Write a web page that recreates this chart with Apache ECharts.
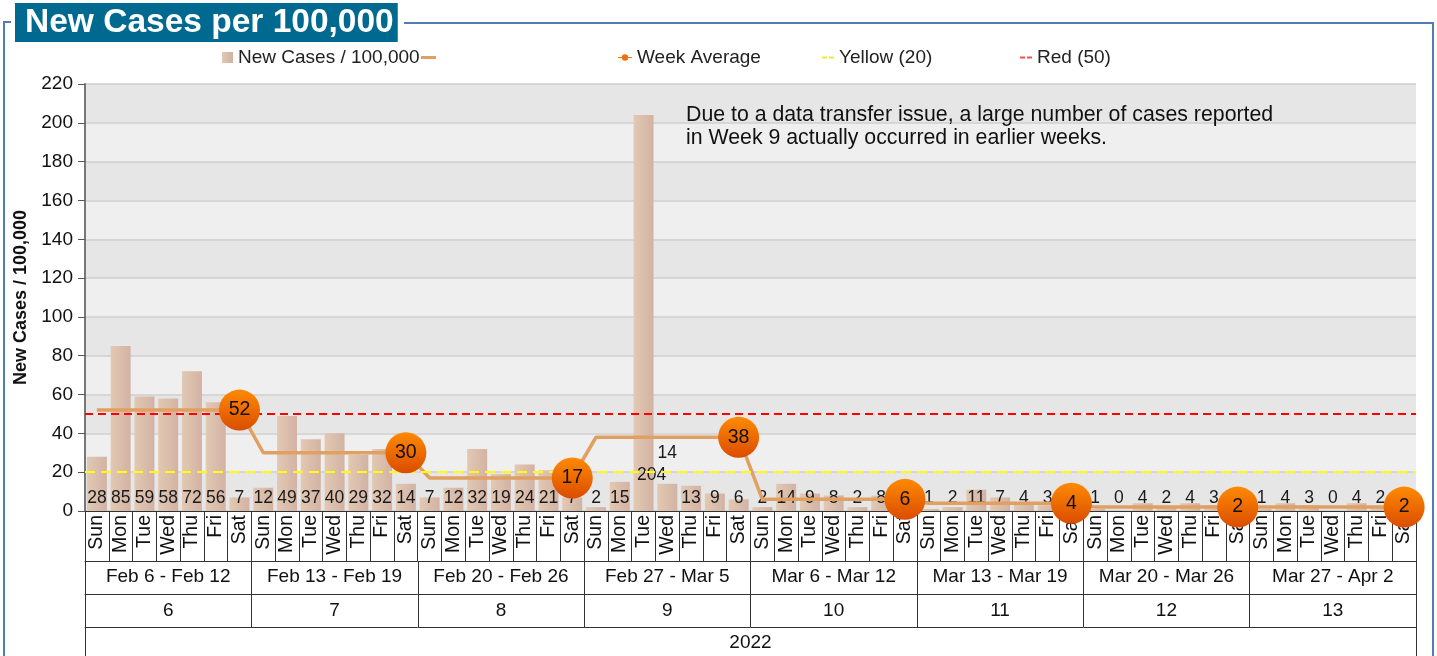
<!DOCTYPE html>
<html>
<head>
<meta charset="utf-8">
<title>New Cases per 100,000</title>
<script src="https://cdn.jsdelivr.net/npm/echarts@6/dist/echarts.min.js"></script>
<style>
  html, body { margin: 0; padding: 0; background: #fff; }
  #chart { width: 1437px; height: 656px; }
</style>
</head>
<body>
<div id="chart"></div>
<script>
// data
const days = ['Sun', 'Mon', 'Tue', 'Wed', 'Thu', 'Fri', 'Sat'];
const weekRanges = ['Feb 6 - Feb 12', 'Feb 13 - Feb 19', 'Feb 20 - Feb 26', 'Feb 27 - Mar 5',
  'Mar 6 - Mar 12', 'Mar 13 - Mar 19', 'Mar 20 - Mar 26', 'Mar 27 - Apr 2'];
const weekNumbers = ['6', '7', '8', '9', '10', '11', '12', '13'];
const years = ['2022'];
const newCases = [
  28, 85, 59, 58, 72, 56, 7,
  12, 49, 37, 40, 29, 32, 14,
  7, 12, 32, 19, 24, 21, 7,
  2, 15, 204, 14, 13, 9, 6,
  2, 14, 9, 8, 2, 8, 1,
  1, 2, 11, 7, 4, 3, 2,
  1, 0, 4, 2, 4, 3, 1,
  1, 4, 3, 0, 4, 2, 1
];
const weekAverage = [52, 30, 17, 38, 6, 4, 2, 2];
const yellowLevel = 20;
const redLevel = 50;
const yTicks = { min: 0, max: 220, interval: 20 };

// labels that the original pushed out of the way
const labelShift = { 23: [8, -23], 24: [0, -45] };

const font = 'Liberation Sans, Arial, sans-serif';
const dayCats = weekRanges.flatMap(() => days);
const avgLine = dayCats.map((d, i) => weekAverage[Math.floor(i / 7)]);
const avgDots = dayCats.map((d, i) => (i % 7 === 6 ? weekAverage[Math.floor(i / 7)] : '-'));

const barColor = new echarts.graphic.LinearGradient(0, 0, 1, 0, [
  { offset: 0, color: '#e2c9b3' },
  { offset: 1, color: '#d2b2a4' }
]);
const dotColor = new echarts.graphic.LinearGradient(0, 0, 0, 1, [
  { offset: 0, color: '#ff8a00' },
  { offset: 1, color: '#da4c00' }
]);

const cellLine = { show: true, lineStyle: { color: '#333', width: 1 } };
const dashIcon = 'path://M0,0L5,0L5,2L0,2Z M7,0L12,0L12,2L7,2Z';

const chart = echarts.init(document.getElementById('chart'));
chart.setOption({
  animation: false,
  textStyle: { fontFamily: font },
  title: {
    text: 'New Cases per 100,000',
    left: 15, top: 3,
    padding: [3, 4, 2, 10],
    backgroundColor: '#00698f',
    textStyle: { color: '#fff', fontSize: 33.5, fontWeight: 'bold', fontFamily: font }
  },
  legend: [
    { data: ['New Cases / 100,000'], left: 217, top: 43, icon: 'rect', itemWidth: 11, itemHeight: 11,
      textStyle: { fontSize: 19, color: '#222' } },
    { data: [{ name: ' ', icon: 'rect' }], left: 416, top: 43, itemWidth: 15, itemHeight: 3,
      textStyle: { fontSize: 19 } },
    { data: [{ name: 'Week Average', icon: 'path://M0,4.4L14,4.4L14,5.6L0,5.6Z M7,1.8A3.2,3.2,0,1,1,6.99,1.8Z',
        itemStyle: { color: '#f07010' } }],
      left: 613, top: 43, itemWidth: 14, itemHeight: 10, textStyle: { fontSize: 19, color: '#222' } },
    { data: [{ name: 'Yellow (20)', icon: dashIcon, itemStyle: { color: '#f0e400' } }],
      left: 817, top: 43, itemWidth: 12, itemHeight: 2, textStyle: { fontSize: 19, color: '#222' } },
    { data: [{ name: 'Red (50)', icon: dashIcon, itemStyle: { color: '#ff2020' } }],
      left: 1015, top: 43, itemWidth: 12, itemHeight: 2, textStyle: { fontSize: 19, color: '#222' } }
  ],
  grid: { left: 85, right: 21, top: 84, bottom: 145 },
  xAxis: [
    {
      type: 'category', data: dayCats, position: 'bottom', offset: 0,
      axisLine: { show: true, lineStyle: { color: '#333' } },
      axisTick: { show: true, interval: 0, length: 50, lineStyle: { color: '#333' } },
      axisLabel: { interval: 0, rotate: 90, margin: 4, fontSize: 19.5, color: '#111' }
    },
    {
      type: 'category', data: weekRanges, position: 'bottom', offset: 50,
      axisLine: cellLine,
      axisTick: { show: true, interval: 0, length: 33, lineStyle: { color: '#333' } },
      axisLabel: { interval: 0, margin: 6, fontSize: 19, color: '#111' }
    },
    {
      type: 'category', data: weekNumbers, position: 'bottom', offset: 83,
      axisLine: cellLine,
      axisTick: { show: true, interval: 0, length: 33, lineStyle: { color: '#333' } },
      axisLabel: { interval: 0, margin: 7, fontSize: 19, color: '#111' }
    },
    {
      type: 'category', data: years, position: 'bottom', offset: 116,
      axisLine: cellLine,
      axisTick: { show: true, interval: 0, length: 40, lineStyle: { color: '#333' } },
      axisLabel: { interval: 0, margin: 6, fontSize: 19, color: '#111' }
    }
  ],
  yAxis: {
    type: 'value', min: yTicks.min, max: yTicks.max, interval: yTicks.interval,
    name: 'New Cases / 100,000', nameLocation: 'middle', nameGap: 53,
    nameTextStyle: { fontSize: 18, fontWeight: 'bold', color: '#111' },
    axisLine: { show: true, lineStyle: { color: '#777', width: 2 } },
    axisTick: { show: true, length: 7, lineStyle: { color: '#555' } },
    axisLabel: { fontSize: 19, color: '#111', margin: 12 },
    splitLine: { show: true, lineStyle: { color: '#cfcfcf', width: 1.5 } },
    splitArea: { show: true, areaStyle: { color: ['#e6e6e6', '#efefef'] } }
  },
  series: [
    {
      name: 'New Cases / 100,000', type: 'bar', barCategoryGap: '16%', z: 2,
      itemStyle: { color: barColor },
      label: { show: true, position: 'insideBottom', distance: 4, fontSize: 17.5, color: '#1a1a1a' },
      data: newCases.map((v, i) => (labelShift[i] ? { value: v, label: { offset: labelShift[i] } } : v))
    },
    {
      name: ' ', type: 'line', z: 3, symbol: 'none',
      lineStyle: { color: '#e0a062', width: 3.5 }, itemStyle: { color: '#e0a062' },
      data: avgLine
    },
    {
      name: 'Week Average', type: 'scatter', z: 6, symbolSize: 41,
      itemStyle: { color: dotColor, opacity: 1 },
      label: { show: true, position: 'inside', fontSize: 19.5, color: '#111' },
      data: avgDots
    },
    {
      name: 'Yellow (20)', type: 'scatter', z: 1, data: [],
      itemStyle: { color: '#f0e400' },
      markLine: { silent: true, symbol: 'none', label: { show: false },
        lineStyle: { color: '#ffff00', type: [10, 6], width: 2 }, data: [{ yAxis: yellowLevel }] }
    },
    {
      name: 'Red (50)', type: 'scatter', z: 1, data: [],
      itemStyle: { color: '#ff2020' },
      markLine: { silent: true, symbol: 'none', label: { show: false },
        lineStyle: { color: '#ff0000', type: [8, 5], width: 2 }, data: [{ yAxis: redLevel }] }
    }
  ],
  graphic: [
    { type: 'polyline', silent: true, shape: { points: [[11, 22], [4, 22], [4, 656]] },
      style: { stroke: '#4f7db6', lineWidth: 2, fill: null } },
    { type: 'polyline', silent: true, shape: { points: [[404, 23], [1433, 23], [1433, 656]] },
      style: { stroke: '#4f7db6', lineWidth: 2, fill: null } },
    { type: 'text', left: 686, top: 104, z: 10, silent: true,
      style: { text: 'Due to a data transfer issue, a large number of cases reported\nin Week 9 actually occurred in earlier weeks.',
        font: '21.3px ' + font, fill: '#111', lineHeight: 23 } }
  ]
});
</script>
</body>
</html>
